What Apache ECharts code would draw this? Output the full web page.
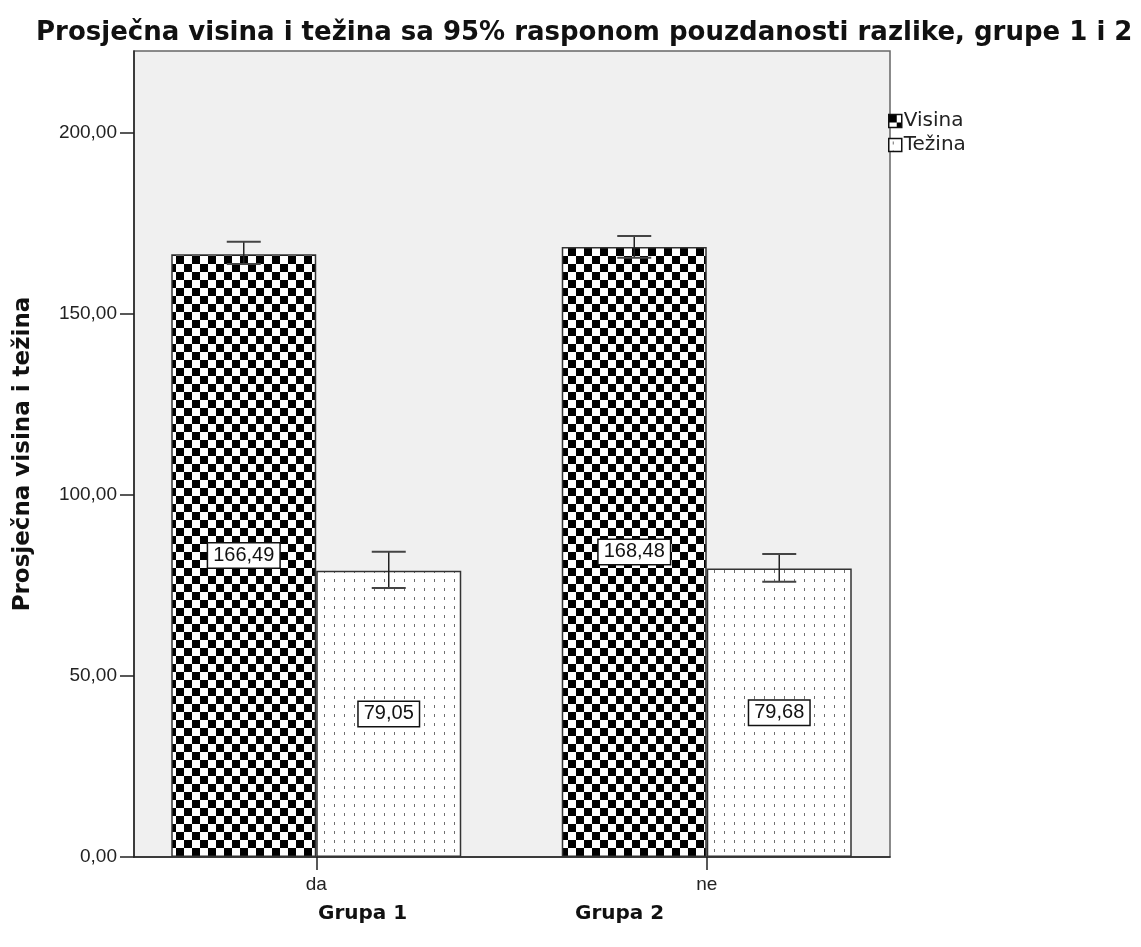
<!DOCTYPE html>
<html>
<head>
<meta charset="utf-8">
<script src="https://cdn.jsdelivr.net/npm/echarts@6/dist/echarts.min.js"></script>
<style>
html,body{margin:0;padding:0;background:#fff;}
#chart{width:1141px;height:947px;}
</style>
</head>
<body>
<div id="chart"></div>
<script>
// ---- data ----
const categories = ['da', 'ne'];
const seriesNames = ['Visina', 'Težina'];
const visinaMean = [166.49, 168.48];
const tezinaMean = [79.05, 79.68];
const visinaLow = [163.8, 165.5];
const visinaHigh = [169.9, 171.5];
const tezinaLow = [74.3, 76.0];
const tezinaHigh = [84.3, 83.7];
const yTicks = [0, 50, 100, 150, 200];
const yMax = 222.6;
const groupLabels = ['Grupa 1', 'Grupa 2'];
const titleText = 'Prosječna visina i težina sa 95% rasponom pouzdanosti razlike, grupe 1 i 2';
const yAxisName = 'Prosječna visina i težina';

// ---- patterns ----
function checkerPattern(cell) {
  const c = document.createElement('canvas');
  c.width = cell * 2; c.height = cell * 2;
  const g = c.getContext('2d');
  g.fillStyle = '#ffffff'; g.fillRect(0, 0, c.width, c.height);
  g.fillStyle = '#000000';
  g.fillRect(0, 0, cell, cell);
  g.fillRect(cell, cell, cell, cell);
  return c;
}
function dotPattern() {
  const c = document.createElement('canvas');
  c.width = 10; c.height = 9;
  const g = c.getContext('2d');
  g.fillStyle = '#ffffff'; g.fillRect(0, 0, c.width, c.height);
  g.fillStyle = '#6f6f6f';
  g.fillRect(4, 3, 1, 3);
  return c;
}
const checker = { image: checkerPattern(8), repeat: 'repeat' };
const dots = { image: dotPattern(), repeat: 'repeat' };

const FONT = '"Liberation Sans", Arial, sans-serif';
const BOLD = '"DejaVu Sans", sans-serif';
const BAR_W = 145;
const fmt = v => v.toFixed(2).replace('.', ',');

const chart = echarts.init(document.getElementById('chart'), null, { renderer: 'canvas' });

function errData(lows, highs, sIdx) {
  return categories.map((c, i) => [i, lows[i], highs[i], sIdx]);
}

function renderErr(params, api) {
  const ci = api.value(0);
  const lo = api.value(1);
  const hi = api.value(2);
  const s = api.value(3);
  const off = (s === 0 ? -1 : 1) * BAR_W / 2;
  const pLo = api.coord([ci, lo]);
  const pHi = api.coord([ci, hi]);
  const x = pLo[0] + off;
  const half = 17;
  return {
    type: 'group',
    children: [
      { type: 'line', shape: { x1: x, y1: pHi[1], x2: x, y2: pLo[1] }, style: { stroke: '#222', lineWidth: 1.5 } },
      { type: 'line', shape: { x1: x - half, y1: pHi[1], x2: x + half, y2: pHi[1] }, style: { stroke: '#444', lineWidth: 2 } },
      { type: 'line', shape: { x1: x - half, y1: pLo[1], x2: x + half, y2: pLo[1] }, style: { stroke: '#444', lineWidth: 2 } }
    ]
  };
}

const labelStyle = {
  show: true,
  position: 'inside',
  formatter: p => fmt(p.value),
  fontFamily: FONT,
  fontSize: 20,
  color: '#111',
  backgroundColor: '#ffffff',
  borderColor: '#111',
  borderWidth: 1.5,
  padding: [3, 5, 1, 5]
};

const option = {
  backgroundColor: '#ffffff',
  animation: false,
  title: [
    { text: titleText, left: 31, top: 15,
      textStyle: { fontFamily: BOLD, fontSize: 26, fontWeight: 'bold', color: '#111' } },
    { text: groupLabels[0], left: 313, top: 899,
      textStyle: { fontFamily: BOLD, fontSize: 20, fontWeight: 'bold', color: '#111' } },
    { text: groupLabels[1], left: 570, top: 899,
      textStyle: { fontFamily: BOLD, fontSize: 20, fontWeight: 'bold', color: '#111' } }
  ],
  legend: {
    data: seriesNames,
    orient: 'vertical',
    left: 883, top: 106,
    itemWidth: 13, itemHeight: 13, itemGap: 4,
    icon: 'rect',
    itemStyle: { borderColor: '#111', borderWidth: 1.5 },
    textStyle: { fontFamily: '"DejaVu Sans", sans-serif', fontSize: 20, color: '#222', padding: [0, 0, 0, -3] }
  },
  grid: [
    { left: 121, right: 239, top: 51, bottom: 90, show: false, outerBoundsMode: 'none' },
    { left: 134, right: 251, top: 51, bottom: 90, show: true, z: 0,
      backgroundColor: '#f0f0f0', borderColor: '#666', borderWidth: 1.5, outerBoundsMode: 'none' }
  ],
  xAxis: [
    { type: 'category', gridIndex: 0, data: categories,
      axisLine: { show: false },
      axisTick: { show: true, alignWithLabel: true, length: 13, lineStyle: { color: '#222', width: 1.5 } },
      axisLabel: { fontFamily: FONT, fontSize: 19, color: '#222', margin: 18 } },
    { type: 'category', gridIndex: 1, data: categories,
      axisLine: { show: true, lineStyle: { color: '#222', width: 1.5 } },
      axisTick: { show: false }, axisLabel: { show: false } }
  ],
  yAxis: [
    { type: 'value', gridIndex: 0, min: 0, max: yMax, interval: 50, show: false, splitLine: { show: false } },
    { type: 'value', gridIndex: 1, min: 0, max: yMax, interval: 50,
      name: yAxisName, nameLocation: 'middle', nameGap: 99, nameRotate: 90,
      nameTextStyle: { fontFamily: BOLD, fontSize: 23, fontWeight: 'bold', color: '#111' },
      axisLine: { show: true, lineStyle: { color: '#222', width: 1.5 } },
      axisTick: { show: true, length: 14, lineStyle: { color: '#222', width: 1.5 },
        customValues: yTicks },
      axisLabel: { fontFamily: FONT, fontSize: 19, color: '#222', margin: 17,
        formatter: v => fmt(v), customValues: yTicks },
      splitLine: { show: false } }
  ],
  series: [
    { name: seriesNames[0], type: 'bar', xAxisIndex: 0, yAxisIndex: 0,
      data: visinaMean, barWidth: BAR_W, barGap: '0%',
      itemStyle: { color: checker, borderColor: '#333', borderWidth: 1.5 },
      label: labelStyle, z: 3 },
    { name: seriesNames[1], type: 'bar', xAxisIndex: 0, yAxisIndex: 0,
      data: tezinaMean, barWidth: BAR_W, barGap: '0%',
      itemStyle: { color: dots, borderColor: '#333', borderWidth: 1.5 },
      label: labelStyle, z: 3 },
    { type: 'custom', xAxisIndex: 0, yAxisIndex: 0, renderItem: renderErr,
      data: errData(visinaLow, visinaHigh, 0), z: 10, silent: true },
    { type: 'custom', xAxisIndex: 0, yAxisIndex: 0, renderItem: renderErr,
      data: errData(tezinaLow, tezinaHigh, 1), z: 10, silent: true }
  ]
};
chart.setOption(option);
</script>
</body>
</html>
